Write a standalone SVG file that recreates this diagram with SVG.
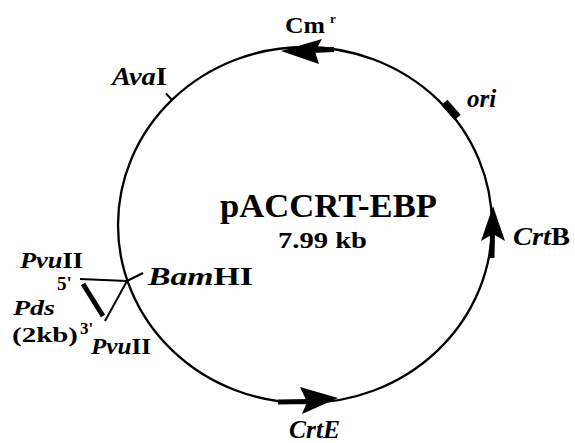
<svg xmlns="http://www.w3.org/2000/svg" width="575" height="443" viewBox="0 0 575 443">
<style>
text{font-family:"Liberation Serif","Times New Roman",serif;font-weight:bold;fill:#000}
.i{font-style:italic}
.lbl{font-size:25px}
.thin{stroke:#000;stroke-width:2;fill:none}
.thick{stroke:#000;stroke-width:5;fill:none;stroke-linecap:butt}
.head{fill:#000;stroke:none}
</style>
<rect width="575" height="443" fill="#fff"/>
<g id="plasmid">
<ellipse cx="305" cy="225" rx="187" ry="178" fill="none" stroke="#000" stroke-width="2.3"/>
<text x="220" y="217" font-size="33" textLength="217" lengthAdjust="spacingAndGlyphs">pACCRT-EBP</text>
<text x="278" y="248" font-size="24" textLength="89" lengthAdjust="spacingAndGlyphs">7.99 kb</text>
</g>
<g id="cm">
<path class="thick" d="M312,50.5 L334,49.5"/>
<polygon class="head" points="281,51 322,39 315,51.5 319,64"/>
<text x="285" y="33" font-size="24" textLength="40" lengthAdjust="spacingAndGlyphs">Cm</text>
<text x="330" y="23" font-size="13">r</text>
</g>
<g id="ori">
<line x1="444.4" y1="102.5" x2="457.6" y2="117.5" stroke="#000" stroke-width="8"/>
<text x="467" y="107" class="lbl i">ori</text>
</g>
<g id="crtB">
<path class="thick" d="M492.5,232 L492,258"/>
<polygon class="head" points="493,206 505,241 493,234 481,241"/>
<text x="513" y="245" class="lbl" textLength="57" lengthAdjust="spacingAndGlyphs"><tspan class="i">Crt</tspan>B</text>
</g>
<g id="crtE">
<path class="thick" d="M278,402 L310,401.5"/>
<polygon class="head" points="338,398 300,387 307,402 302,414"/>
<text x="289" y="438" class="lbl i" textLength="51" lengthAdjust="spacingAndGlyphs">CrtE</text>
</g>
<g id="avaI">
<line x1="172" y1="100" x2="166" y2="93.5" stroke="#000" stroke-width="2"/>
<text x="112" y="85" class="lbl" textLength="55" lengthAdjust="spacingAndGlyphs"><tspan class="i">Ava</tspan>I</text>
</g>
<g id="bamHI">
<line x1="127" y1="281" x2="143" y2="273" stroke="#000" stroke-width="2"/>
<text x="148" y="285" class="lbl" textLength="105" lengthAdjust="spacingAndGlyphs"><tspan class="i">Bam</tspan>HI</text>
</g>
<g id="pds-insert">
<line x1="83" y1="284" x2="103" y2="316" stroke="#000" stroke-width="5"/>
<text x="13" y="315" font-size="22" class="i" textLength="42" lengthAdjust="spacingAndGlyphs">Pds</text>
<text x="12" y="342" font-size="22" textLength="66" lengthAdjust="spacingAndGlyphs">(2kb)</text>
<text x="57" y="290" font-size="19">5'</text>
<text x="80" y="334" font-size="17">3'</text>
</g>
<g id="pvuII-top">
<text x="20" y="268" font-size="23" textLength="63" lengthAdjust="spacingAndGlyphs"><tspan class="i">Pvu</tspan>II</text>
</g>
<g id="pvuII-bottom">
<text x="91" y="354" font-size="23" textLength="60" lengthAdjust="spacingAndGlyphs"><tspan class="i">Pvu</tspan>II</text>
</g>
<g id="connectors">
<path class="thin" d="M80,279 L127,281"/>
<path class="thin" d="M105,321 L127,281"/>
</g>
</svg>
